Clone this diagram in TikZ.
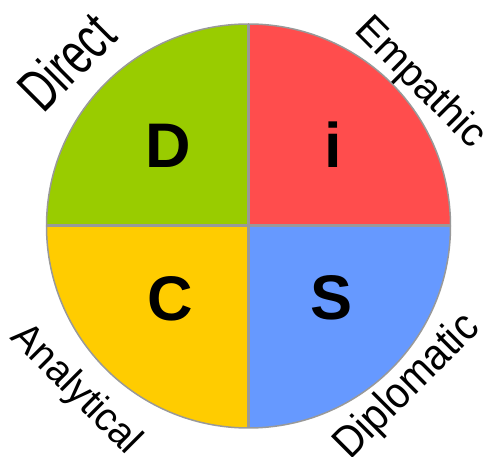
\documentclass[tikz,border=0pt]{standalone}
\usepackage{fontspec}
\setmainfont{Liberation Sans}
\usetikzlibrary{positioning}
\definecolor{discgreen}{HTML}{99CC00}
\definecolor{discred}{HTML}{FF4D4D}
\definecolor{discyellow}{HTML}{FFCC00}
\definecolor{discblue}{HTML}{6699FF}
\definecolor{discgray}{HTML}{999999}

\begin{document}
\begin{tikzpicture}[x=1pt, y=1pt,
    letter/.style={font=\fontsize{63}{63}\selectfont\bfseries, inner sep=0pt},
    trait/.style={inner sep=0pt, text depth=0pt}]
  \useasboundingbox (-248.5,-231) rectangle (239.5,226);
  \foreach \a/\col in {0/discred, 90/discgreen, 180/discyellow, 270/discblue} {
    \fill[\col] (0,0) -- (\a:202) arc[start angle=\a, delta angle=90, radius=202] -- cycle;
  }
  \draw[discgray, line width=1.5pt] (0,0) circle (202);
  \draw[discgray, line width=3pt] (-202,0) -- (202,0);
  \draw[discgray, line width=3pt] (0,-202) -- (0,202);

  \node[letter] (d) at (-80.5, 80) {D};
  \node[letter] (i) at (84.5, 81) {i};
  \node[letter] (c) at (-78.5, -73) {C};
  \node[letter] (s) at (83.5, -72) {S};

  \node[trait, font=\fontsize{60}{60}\selectfont, rotate=45, xscale=0.68] (direct) at (-182.5, 165) {Direct};
  \node[trait, font=\fontsize{40}{40}\selectfont, rotate=-45] (empathic) at (174, 145.3) {Empathic};
  \node[trait, font=\fontsize{40}{40}\selectfont, rotate=-45, xscale=0.97] (analytical) at (-170, -161) {Analytical};
  \node[trait, font=\fontsize{44}{44}\selectfont, rotate=45, xscale=0.9] (diplomatic) at (156, -158) {Diplomatic};
\end{tikzpicture}
\end{document}
